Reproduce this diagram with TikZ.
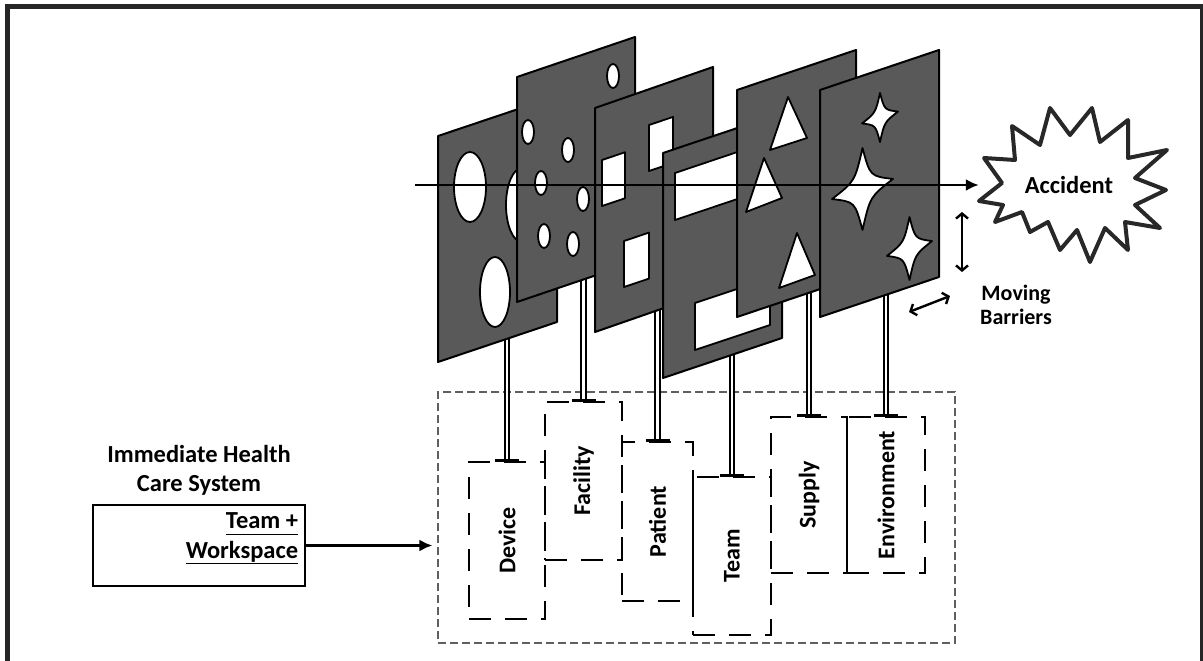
\documentclass[tikz,border=0pt]{standalone}
\usepackage{fontspec}
\setmainfont{Carlito}
\usepackage{tikz}
\usetikzlibrary{arrows.meta,positioning,calc}
\definecolor{SliceGray}{RGB}{89,89,89}
\definecolor{FrameGray}{RGB}{38,38,38}
\definecolor{BurstGray}{RGB}{40,40,40}
\definecolor{ZoneGray}{RGB}{95,95,95}
\newcommand{\ulword}[1]{\underline{#1\vphantom{p}}}

\begin{document}
\begin{tikzpicture}[
    x=1pt,y=-1pt,
    slice/.style={draw=black, line width=2pt, fill=SliceGray, line join=round},
    hole/.style={draw=black, line width=1.8pt, fill=white, line join=round},
    pole/.style={draw=black, line width=2pt, double=white, double distance=2.4pt},
    tbar/.style={draw=black, line width=2.8pt},
    dbox/.style={draw=black, line width=2.8pt, dash pattern=on 22pt off 14pt, inner sep=0pt, font=\fontsize{24}{29}\selectfont\bfseries},
    zone/.style={draw=ZoneGray, line width=1.2pt, dash pattern=on 8pt off 4pt},
    hbox/.style={draw=black, line width=2.6pt, minimum width=212pt, minimum height=81pt},
    lbl/.style={font=\fontsize{24.5}{29.5}\selectfont\bfseries, align=center, inner sep=0pt},
    burst/.style={draw=BurstGray, line width=4pt, line join=round, fill=white},
    arrow/.style={-{Latex[length=13pt,width=12pt]}, line width=2.4pt},
    mv/.style={{Straight Barb[length=5pt,width=12pt]}-{Straight Barb[length=5pt,width=12pt]}, line width=2.4pt}
  ]
  \useasboundingbox (0,0) rectangle (1203,661);
  \draw[line width=5pt, FrameGray] (7.5,661) -- (7.5,6.5) -- (1202,6.5) -- (1202,661);

  \node[zone, minimum width=517pt, minimum height=251pt] (system) at (696.5,517.5) {};
  \foreach \name/\lab/\cx/\cy/\w/\h in {device/Device/507/540.5/76/157, facility/Facility/583.5/481/77/158, patient/Patient/657.5/521.5/71/159, team/Team/732/556/78/158, supply/Supply/809/495/76/156, environment/Environment/886/495/78/156} {
    \node[dbox, minimum width=\w pt, minimum height=\h pt] (\name) at (\cx,\cy) {\rotatebox{90}{\lab}};
  }
  \foreach \name/\top in {device/320, facility/260, patient/290, team/330, supply/270, environment/270} {
    \coordinate (top-\name) at (\name.north |- 0,\top);
    \draw[pole] (top-\name) -- (\name.north);
    \draw[tbar] ([xshift=-12pt]\name.north) -- ([xshift=12pt]\name.north);
  }

  % slice 1
  \draw[slice] (438,136) -- ++(119,-40) -- ++(0,226) -- ++(-119,40) -- cycle;
  \draw[hole] (470,187) ellipse [x radius=16pt, y radius=35pt];
  \draw[hole] (495,292) ellipse [x radius=15pt, y radius=35pt];
  \draw[hole] (522,205) ellipse [x radius=16pt, y radius=37pt];
  % slice 2
  \draw[slice] (517,77) -- ++(118,-40) -- ++(0,225) -- ++(-118,40) -- cycle;
  \foreach \cx/\cy in {613/76, 528/132, 568/150, 541/183, 583/199, 544/236, 573/244}
    \draw[hole] (\cx,\cy) ellipse [x radius=6pt, y radius=12pt];
  % slice 3
  \draw[slice] (595,108) -- ++(118,-41) -- ++(0,224) -- ++(-118,41) -- cycle;
  \foreach \sx/\sy/\w in {602/160/23, 649/125/24, 624/241/25}
    \draw[hole] (\sx,\sy) -- ++(\w,-0.336*\w) -- ++(0,46) -- ++(-\w,0.336*\w) -- cycle;
  % slice 4
  \draw[slice] (663,153) -- ++(119,-40) -- ++(0,225) -- ++(-119,40) -- cycle;
  \draw[hole] (675,173) -- ++(95,-32) -- ++(0,47) -- ++(-95,32) -- cycle;
  \draw[hole] (695,303) -- ++(75,-25) -- ++(0,47) -- ++(-75,25) -- cycle;
  % slice 5
  \draw[slice] (737,90) -- ++(119,-40) -- ++(0,227) -- ++(-119,40) -- cycle;
  \draw[hole] (788,97) -- (807,138) -- (770,150) -- cycle;
  \draw[hole] (764,158) -- (782,198) -- (746,212) -- cycle;
  \draw[hole] (797,233) -- (815,275) -- (779,288) -- cycle;
  % slice 6
  \draw[slice] (820,90) -- ++(119,-40) -- ++(0,227) -- ++(-119,40) -- cycle;
  \foreach \cx/\cy/\a/\b in {880/117.5/24.5/18, 862.5/189/41/30.5, 909.5/248.5/31.5/22.5}
    \draw[hole, shift={(\cx,\cy)}, yslant=0.33] (0,-\a) .. controls (0.25*\b,-0.25*\a) .. (\b,0) .. controls (0.25*\b,0.25*\a) .. (0,\a) .. controls (-0.25*\b,0.25*\a) .. (-\b,0) .. controls (-0.25*\b,-0.25*\a) .. cycle;

  \draw[burst] (979,201) -- (1002,183) -- (984,158) -- (1015,160) -- (1012,126) -- (1040,145) -- (1050,108) -- (1070,135) -- (1092,108) -- (1100,142) -- (1128,120) -- (1128,158) -- (1167,150) -- (1135,178) -- (1166,190) -- (1135,205) -- (1160,228) -- (1125,222) -- (1128,250) -- (1105,228) -- (1090,262) -- (1077,230) -- (1060,250) -- (1048,222) -- (1030,232) -- (1022,212) -- (995,222) -- (1003,205) -- cycle;
  \node[lbl, minimum width=180pt, minimum height=140pt] (accident) at (1069,185) {Accident};
  \coordinate (entry) at (415,185);
  \draw[arrow] (entry) -- (accident.west);

  \coordinate (mvtop) at (962,212);
  \coordinate (mvbot) at (962,272);
  \draw[mv] (mvtop) -- (mvbot);
  \coordinate (mvleft) at (909,312);
  \coordinate (mvright) at (950,296);
  \draw[mv] (mvleft) -- (mvright);
  \node[font=\fontsize{22}{24}\selectfont\bfseries, align=center] (moving) at (1016,305) {Moving\\Barriers};

  \node[lbl] (title) at (199,470.5) {Immediate Health\\Care System};
  \node[hbox] (hcs) at (199,545.5) {};
  \node[lbl, align=right, anchor=east] (hcstext) at ([xshift=-8pt,yshift=7pt]hcs.east) {\ulword{Team +}\\\ulword{Workspace}};
  \draw[arrow] (hcs.east) -- ([xshift=-5pt]hcs.east -| system.west);
\end{tikzpicture}
\end{document}
